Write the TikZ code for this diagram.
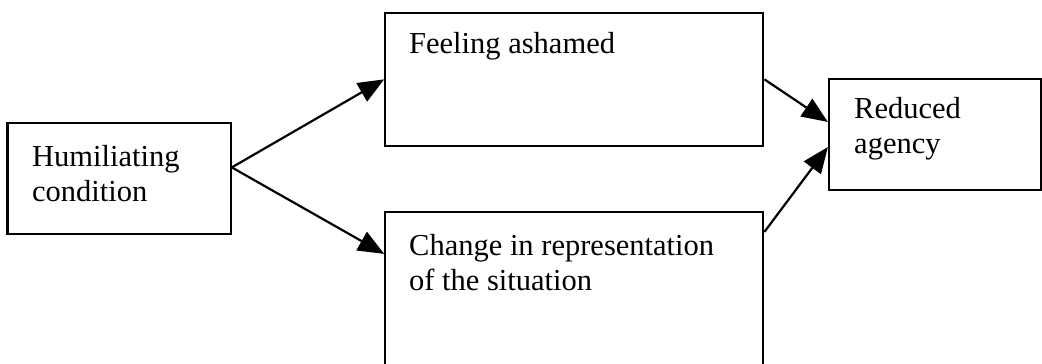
\documentclass[tikz,border=0pt]{standalone}
\usepackage{fontspec}
\setmainfont{Liberation Serif}
\usetikzlibrary{arrows.meta}
\begin{document}
\begin{tikzpicture}[x=1pt,y=-1pt,
  box/.style={draw=black, line width=2.2pt, rectangle, inner sep=0pt},
  txt/.style={inner sep=0pt, align=left, font=\fontsize{30.5}{35}\selectfont},
  conn/.style={line width=2.2pt, -{Triangle[length=26pt,width=21pt]}}]
\useasboundingbox (0,0) rectangle (1042,364);
\clip (0,0) rectangle (1042,364);
\node[box, minimum width=223.2pt, minimum height=111.3pt] (a) at (119.1,178.4) {};
\node[box, minimum width=378pt, minimum height=133.3pt] (b) at (574.3,79.35) {};
\node[box, minimum width=378pt, minimum height=163pt] (c) at (574.3,293.5) {};
\node[box, minimum width=211.7pt, minimum height=111pt] (d) at (934.85,134.5) {};
\node[txt, anchor=base west] (at) at (32,201.7) {Humiliating\\condition};
\node[txt, anchor=base west] (bt) at (409,53.3) {Feeling ashamed};
\node[txt, anchor=base west] (ct) at (409,290) {Change in representation\\of the situation};
\node[txt, anchor=base west] (dt) at (854,153.3) {Reduced\\agency};
\draw[conn] ([yshift=11pt]a.east) -- (b.west);
\draw[conn] ([yshift=11pt]a.east) -- ([yshift=-43pt]c.north west);
\draw[conn] (b.east) -- ([yshift=12.5pt]d.west);
\draw[conn] ([yshift=-21pt]c.north east) -- ([yshift=-12.5pt]d.west);
\end{tikzpicture}
\end{document}
